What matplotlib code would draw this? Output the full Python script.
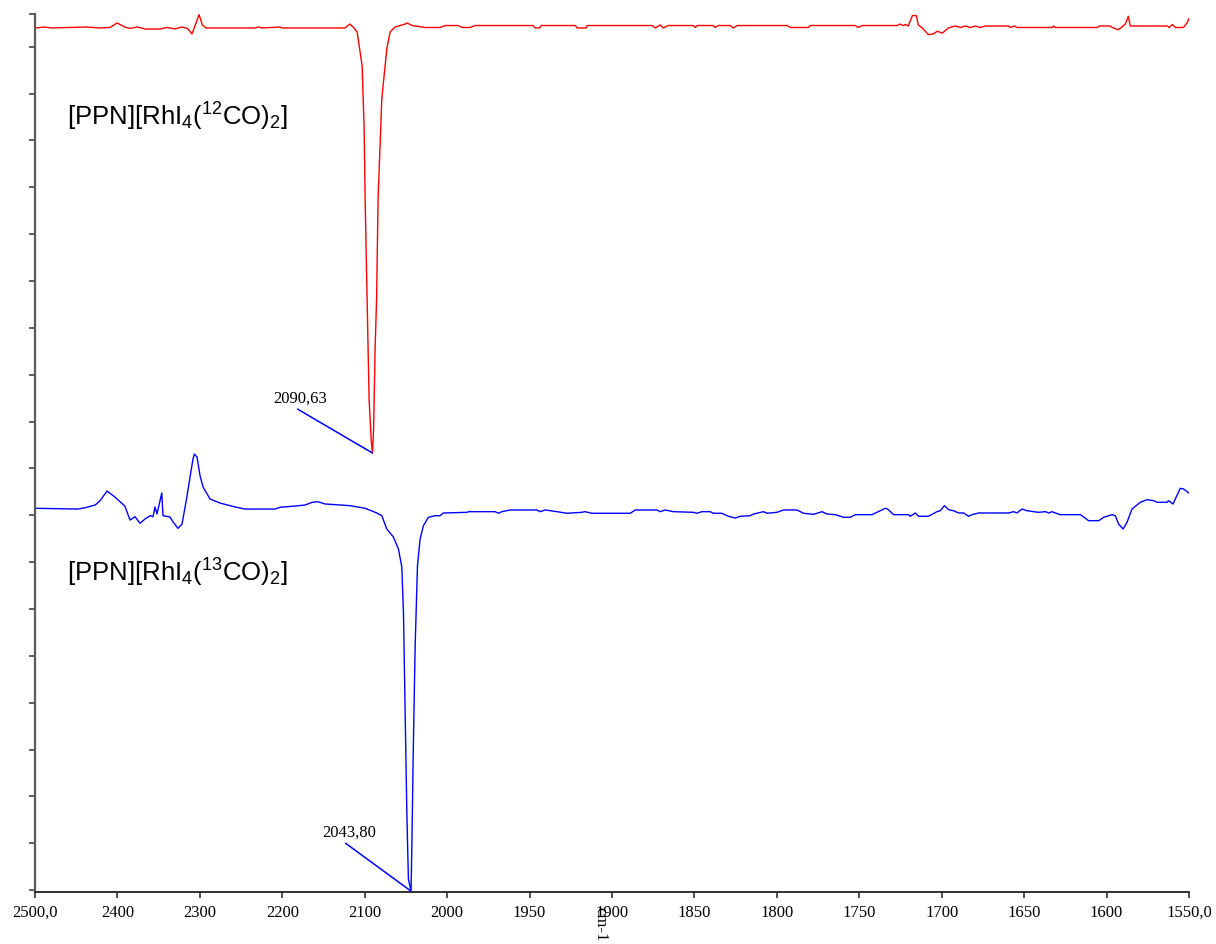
#!/usr/bin/env python

"""
IR spectra of [PPN][RhI4(CO)2] with 12CO and 13CO, offset traces.
"""

import matplotlib
matplotlib.use("Agg")
import matplotlib.pyplot as plt
import numpy as np

plt.rc("font", family="Liberation Serif", size=12)
plt.rc("mathtext", fontset="custom", rm="Liberation Sans",
       it="Liberation Sans:italic", bf="Liberation Sans:bold")

# 12CO trace (red), wavenumber / transmittance (offset)
red_wn = [2500, 2488, 2480, 2437, 2421, 2409, 2400.5, 2391, 2385, 2376,
          2366, 2348, 2340, 2330, 2322, 2315, 2309.5, 2306, 2301, 2297,
          2292.5, 2233, 2229, 2224, 2203, 2200, 2124, 2118, 2113, 2109.2,
          2103.1, 2100.7, 2099.5, 2097.1, 2094.7, 2092.2, 2090.63, 2089.2, 2087.4, 2085.6,
          2083.8, 2079.3, 2073.2, 2069.2, 2063.1, 2051.0, 2048.5, 2042.5, 2026.7, 2008.5,
          2002.4, 1993.3, 1990.9, 1986.0, 1983.0, 1947.8, 1946.6, 1944.0, 1942.8, 1922.3,
          1921.1, 1915.6, 1915.0, 1875.6, 1873.8, 1870.7, 1868.9, 1865.9, 1850.7, 1849.5,
          1848.3, 1838.6, 1837.4, 1835.6, 1828.3, 1826.5, 1824.0, 1793.7, 1791.9, 1780.9,
          1779.7, 1752.4, 1750.6, 1748.2, 1726.9, 1725.7, 1723.3, 1722.1, 1720.3, 1717.8,
          1715.4, 1714.2, 1711.8, 1708.1, 1705.1, 1702.7, 1699.6, 1696.0, 1691.7, 1688.7,
          1685.7, 1682.6, 1679.6, 1676.6, 1673.5, 1659.6, 1658.4, 1656.0, 1654.1, 1632.9,
          1632.3, 1631.1, 1605.6, 1604.4, 1597.7, 1596.5, 1592.9, 1591.1, 1588.6, 1586.8,
          1585.6, 1563.1, 1561.9, 1560.1, 1558.3, 1553.4, 1551.0, 1550]
red_t = [92.00, 92.10, 92.00, 92.10, 92.00, 92.05, 92.53, 92.10, 91.95, 92.10,
         91.89, 91.89, 92.05, 91.90, 92.10, 91.95, 91.36, 92.21, 93.42, 92.32,
         92.00, 92.00, 92.10, 92.00, 92.10, 92.00, 92.00, 92.42, 92.00, 91.57,
         87.94, 81.23, 73.75, 63.08, 52.41, 48.14, 46.65, 49.21, 57.75, 63.08,
         73.75, 84.42, 89.76, 91.57, 92.10, 92.42, 92.53, 92.26, 92.05, 92.05,
         92.26, 92.26, 92.05, 92.05, 92.26, 92.26, 92.00, 92.00, 92.26, 92.26,
         92.00, 92.00, 92.26, 92.26, 92.00, 92.32, 92.00, 92.26, 92.26, 92.05,
         92.26, 92.26, 92.05, 92.26, 92.26, 92.00, 92.26, 92.26, 92.05, 92.05,
         92.26, 92.26, 92.05, 92.26, 92.26, 92.42, 92.26, 92.37, 92.21, 93.32,
         93.32, 92.32, 92.00, 91.29, 91.36, 91.65, 91.45, 92.00, 92.21, 92.05,
         92.21, 92.05, 92.21, 92.05, 92.21, 92.21, 92.05, 92.21, 92.05, 92.05,
         92.21, 92.05, 92.05, 92.21, 92.21, 92.05, 91.81, 92.05, 92.42, 93.25,
         92.21, 92.21, 92.05, 92.37, 92.05, 92.05, 92.60, 93.01]

# 13CO trace (blue)
blue_wn = [2500, 2448, 2439, 2427, 2421, 2412.6, 2403, 2391, 2384.7, 2378.6,
           2372.6, 2366.5, 2360.4, 2356.8, 2354.4, 2352.0, 2346.2, 2344.7, 2336.2, 2332.5,
           2326.5, 2321.6, 2315.5, 2311.9, 2308.3, 2306.7, 2303.4, 2299.8, 2296.1, 2287.6,
           2275.5, 2257.3, 2245.2, 2208.7, 2202.7, 2184.5, 2172.3, 2163.8, 2156.6, 2148.1,
           2117.7, 2099.5, 2085.3, 2079.3, 2073.2, 2065.2, 2059.1, 2055.0, 2053.0, 2051.0,
           2048.9, 2047.0, 2043.8, 2042.8, 2041.0, 2038.8, 2036.0, 2032.8, 2028.8, 2022.7,
           2014.6, 2008.5, 2004.5, 1988.0, 1987.0, 1970.9, 1968.9, 1966.8, 1961.8, 1945.6,
           1943.6, 1940.5, 1933.4, 1927.4, 1918.3, 1916.3, 1912.2, 1888.9, 1885.9, 1872.7,
           1870.8, 1867.7, 1862.7, 1850.5, 1848.5, 1845.5, 1840.5, 1838.4, 1833.4, 1829.4,
           1825.2, 1822.2, 1816.1, 1814.1, 1808.1, 1806.0, 1800.0, 1795.9, 1787.8, 1783.8,
           1777.6, 1772.6, 1769.6, 1764.6, 1759.5, 1755.5, 1752.4, 1742.3, 1737.3, 1734.2,
           1732.8, 1729.2, 1720.1, 1719.1, 1716.0, 1714.0, 1708.0, 1702.9, 1700.9, 1698.4,
           1695.8, 1692.8, 1689.8, 1686.7, 1683.7, 1681.7, 1677.6, 1659.4, 1656.4, 1654.4,
           1651.3, 1648.3, 1641.3, 1637.1, 1635.1, 1633.1, 1631.1, 1628.0, 1615.9, 1610.9,
           1604.7, 1601.7, 1596.7, 1594.7, 1592.7, 1590.0, 1587.6, 1584.6, 1579.5, 1575.5,
           1571.4, 1569.4, 1563.3, 1562.4, 1559.7, 1555.3, 1553.3, 1550]
blue_t = [40.75, 40.67, 40.81, 41.10, 41.56, 42.59, 41.95, 40.99, 39.50, 39.85,
          39.15, 39.61, 39.96, 39.85, 40.89, 40.14, 42.38, 39.96, 39.82, 39.29,
          38.61, 39.07, 42.09, 44.09, 46.01, 46.54, 46.22, 44.23, 43.02, 41.74,
          41.31, 40.89, 40.67, 40.67, 40.86, 40.99, 41.10, 41.39, 41.45, 41.21,
          41.03, 40.75, 40.25, 39.96, 38.54, 37.69, 36.41, 34.49, 29.68, 19.01,
          8.34, 1.20, -0.10, 4.75, 15.42, 26.09, 34.62, 37.47, 38.89, 39.79,
          39.96, 39.96, 40.25, 40.32, 40.39, 40.39, 40.22, 40.39, 40.57, 40.57,
          40.39, 40.57, 40.39, 40.22, 40.32, 40.39, 40.22, 40.22, 40.57, 40.57,
          40.39, 40.57, 40.39, 40.32, 40.22, 40.39, 40.39, 40.22, 40.22, 39.90,
          39.71, 39.90, 39.96, 40.14, 40.39, 40.22, 40.32, 40.57, 40.57, 40.22,
          40.11, 40.39, 40.14, 40.07, 39.79, 39.79, 40.07, 40.07, 40.49, 40.75,
          40.67, 40.07, 40.07, 39.90, 40.25, 39.90, 39.90, 40.39, 40.49, 41.03,
          40.60, 40.49, 40.25, 40.25, 39.90, 40.07, 40.25, 40.25, 40.39, 40.25,
          40.67, 40.49, 40.32, 40.39, 40.25, 40.39, 40.25, 40.07, 40.07, 39.43,
          39.43, 39.79, 40.07, 39.96, 39.07, 38.54, 39.25, 40.67, 41.39, 41.67,
          41.56, 41.39, 41.39, 41.56, 41.21, 42.88, 42.81, 42.38]

# peak labels
peak_wn = [2090.63, 2043.80]
peak_t = [46.65, -0.10]
peak_labels = ["2090,63", "2043,80"]
peak_offsets = [(-52, 37), (-44.5, 40)]

compound_labels = [r"[PPN][RhI$_4$($^{12}$CO)$_2$]",
                   r"[PPN][RhI$_4$($^{13}$CO)$_2$]"]
compound_ypos = [0.8736, 0.3546]

tick_wn = [2500, 2400, 2300, 2200, 2100, 2000, 1950, 1900, 1850,
           1800, 1750, 1700, 1650, 1600, 1550]
tick_labels = ["2500,0", "2400", "2300", "2200", "2100", "2000", "1950",
               "1900", "1850", "1800", "1750", "1700", "1650", "1600", "1550,0"]


def fwd(x):
    # scale expands by 2 below 2000 cm-1
    x = np.asarray(x, dtype=float)
    return np.where(x >= 2000, (x - 2000) / 100.0, (x - 2000) / 50.0)


def inv(u):
    u = np.asarray(u, dtype=float)
    return np.where(u >= 0, 2000 + 100.0 * u, 2000 + 50.0 * u)


fig = plt.figure(figsize=(12.16, 9.45), dpi=100)
ax = fig.add_axes([35 / 1216, 1 - 893 / 945, 1154 / 1216, 878 / 945])

ax.set_xscale("function", functions=(fwd, inv))
ax.plot(red_wn, red_t, color="#ff0000", lw=1.0)
ax.plot(blue_wn, blue_t, color="#0000ff", lw=1.0)

ax.set_xlim(2500, 1550)
ax.set_ylim(-0.19, 93.49)

ax.set_xticks(tick_wn)
ax.set_xticklabels(tick_labels)
ax.xaxis.set_minor_locator(matplotlib.ticker.NullLocator())
ax.set_yticks(list(range(0, 95, 5)) + [93.49])
ax.set_yticklabels([])

for side in ("top", "right"):
    ax.spines[side].set_visible(False)
ax.spines["left"].set_color("#5a5a5a")
ax.spines["left"].set_linewidth(1.6)
ax.spines["bottom"].set_color("#222222")
ax.spines["bottom"].set_linewidth(1.3)
ax.tick_params(axis="x", direction="out", length=4.3, width=1.1,
               color="#222222", pad=4, labelsize=12)
ax.tick_params(axis="y", direction="out", length=4.3, width=1.1,
               color="#333333")

ax.set_xlabel("cm-1", rotation=270, fontsize=12)
ax.xaxis.set_label_coords((600 - 35) / 1154, -0.016)

for wn, t, lab, off in zip(peak_wn, peak_t, peak_labels, peak_offsets):
    ax.annotate(lab, xy=(wn, t), xytext=off, textcoords="offset points",
                ha="center", va="baseline", fontsize=12,
                arrowprops=dict(arrowstyle="-", color="#0000ff", lw=1.1,
                                shrinkA=1, shrinkB=0, relpos=(0.34, 0.0)),
                annotation_clip=False)

for lab, yp in zip(compound_labels, compound_ypos):
    ax.text(0.0277, yp, lab, transform=ax.transAxes, ha="left",
            va="baseline", fontsize=18.5, family="Liberation Sans")

fig.savefig("out.png", dpi=100)
